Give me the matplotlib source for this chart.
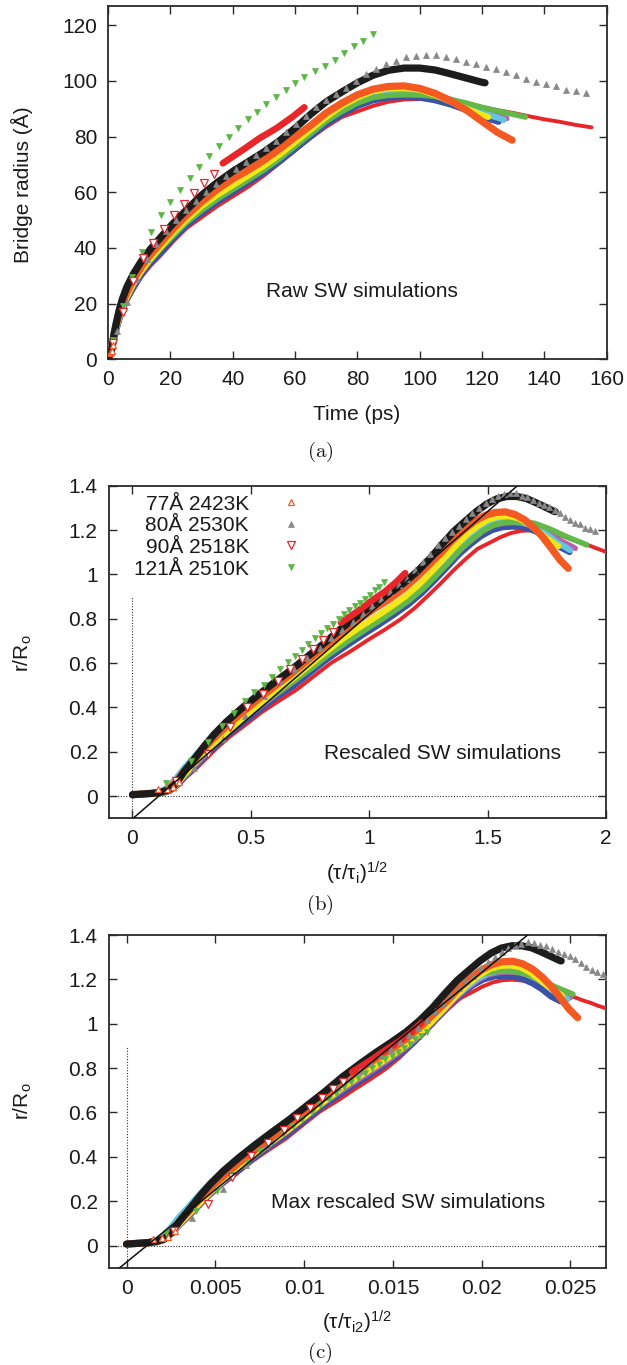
import numpy as np
import matplotlib
matplotlib.use('Agg')
import matplotlib.pyplot as plt
from matplotlib.ticker import FixedLocator, FixedFormatter

plt.rcParams['font.family'] = ['Liberation Sans', 'DejaVu Sans']
plt.rcParams['mathtext.fontset'] = 'custom'
plt.rcParams['mathtext.rm'] = 'Liberation Sans'
plt.rcParams['mathtext.it'] = 'Liberation Sans:italic'
plt.rcParams['mathtext.bf'] = 'Liberation Sans:bold'

# ---------------- data (raw bridge radius vs time) ----------------
t_base = [0, 0.3, 0.6, 0.9, 1.3, 1.8, 2.5, 3.5, 4.5, 6, 8, 10.5, 13.5, 17, 21, 25, 30, 35,
          40, 45, 50, 55, 60, 65, 70, 75, 80, 85, 90, 95, 100, 105, 110, 115, 120]

dense_names = ['red', 'blue', 'purple', 'cyan', 'green', 'yellow', 'orange', 'black']
dense_colors = ['#e8262a', '#3b53a5', '#b462b4', '#62c6de', '#62b848', '#f3e619', '#f25a22', '#1c1c1c']
dense_lw = [2.8, 4.4, 4.0, 4.4, 4.0, 4.4, 5.2, 5.2]

r_red = [0.5, 0.7, 1.0, 1.6, 3.5, 6.5, 9.5, 13.5, 17.0, 21.0, 25.0, 29.5, 33.5, 37.5, 42.5, 47.0, 51.0, 55.0,
         58.5, 62.0, 66.0, 70.5, 75.0, 79.5, 83.5, 87.0, 89.0, 91.0, 92.5, 93.3, 93.5, 93.2, 92.5, 91.8, 90.6]
r_blue = [0.5, 0.8, 1.1, 1.8, 3.8, 6.8, 10.0, 14.0, 17.5, 21.5, 25.5, 30.0, 34.5, 38.5, 43.5, 48.0, 52.5, 56.5,
          60.0, 63.5, 67.0, 71.0, 75.5, 80.0, 84.5, 88.0, 91.0, 93.0, 94.0, 94.2, 94.0, 93.0, 91.5, 89.5, 87.0]
r_purple = [0.5, 0.8, 1.2, 2.0, 4.0, 7.0, 10.5, 14.5, 18.0, 22.0, 26.5, 31.0, 35.5, 40.0, 45.0, 49.5, 54.0, 58.0,
            61.5, 65.0, 68.5, 72.5, 77.0, 81.5, 86.0, 89.5, 92.5, 94.5, 95.3, 95.5, 95.2, 94.4, 93.0, 91.2, 89.0]
r_cyan = [0.6, 1.2, 2.0, 3.5, 6.5, 10.0, 13.5, 18.0, 21.5, 25.5, 30.0, 34.5, 38.5, 42.5, 46.5, 51.0, 55.5, 59.5,
          63.0, 66.5, 70.0, 74.0, 78.0, 82.5, 86.5, 90.0, 93.0, 95.0, 96.0, 96.2, 95.8, 94.8, 93.3, 91.0, 88.5]
r_green = [0.5, 0.9, 1.4, 2.2, 4.5, 7.5, 11.0, 15.0, 18.5, 22.5, 27.0, 31.5, 35.5, 40.0, 44.5, 49.0, 53.5, 57.5,
           61.0, 64.5, 68.0, 72.0, 76.5, 81.0, 85.5, 89.0, 92.0, 94.0, 94.8, 95.0, 94.9, 94.5, 93.3, 92.0, 90.5]
r_yellow = [0.5, 0.8, 1.2, 2.0, 4.0, 7.5, 11.0, 15.0, 18.5, 22.5, 27.0, 31.5, 36.0, 40.5, 45.5, 50.0, 55.0, 59.0,
            62.5, 66.0, 69.5, 73.5, 78.0, 82.5, 87.0, 91.0, 94.0, 96.3, 97.3, 97.5, 96.8, 95.0, 92.5, 90.0, 87.8]
r_orange = [0.5, 1.0, 1.5, 2.5, 5.0, 8.5, 12.0, 16.5, 20.0, 24.0, 28.5, 33.0, 37.5, 42.0, 47.0, 51.5, 56.5, 61.0,
            64.8, 68.0, 71.5, 75.5, 79.8, 84.0, 88.5, 92.0, 95.0, 97.0, 98.0, 98.2, 97.3, 95.5, 92.8, 89.5, 85.5]
r_black = [0.5, 1.0, 1.5, 2.2, 4.5, 8.5, 12.5, 17.5, 21.5, 26.0, 30.5, 35.0, 39.5, 44.0, 49.0, 53.5, 59.0, 63.5,
           67.5, 71.0, 74.5, 78.5, 83.0, 88.0, 92.5, 96.0, 99.3, 102.0, 103.8, 104.6, 104.6, 103.9, 102.5, 101.0, 99.5]

tail_t = [[125, 130, 135, 140, 145, 150, 155.2], [125.4], [125, 128], [125, 127],
          [125, 130, 134], [122], [125, 129.7], [121]]
tail_r = [[89.5, 88.5, 87.3, 86.2, 85.3, 84.2, 83.3], [85.3], [87.5, 86.5], [86.8, 86.0],
          [89.2, 88.0, 87.0], [87.0], [81.5, 78.7], [99.3]]
dense_r = [r_red, r_blue, r_purple, r_cyan, r_green, r_yellow, r_orange, r_black]

# per-run rescaling constants: R0 (Å), tau_i (ps), tau_i2 (ps)
dense_R0 = [78.0, 77.5, 77.4, 77.5, 76.8, 77.2, 76.6, 77.4]
dense_tau_b = [35.3, 36.8, 36.6, 37.2, 36.4, 37.7, 38.3, 37.96]
dense_tau_c = [212000, 210000, 205000, 206000, 212000, 203000, 201000, 202000]

# sparse marker runs
legend_labels = ['77Å 2423K', '80Å 2530K', '90Å 2518K', '121Å 2510K']

t_77 = [0.45, 0.8, 1.1, 1.5]
r_77 = [2.4, 2.6, 3.0, 5.0]

t_80 = [2.7, 5.9, 9.1, 12.3, 15.5, 18.7, 21.9, 25.1, 28.3, 31.5, 34.7, 37.9, 41.1, 44.3, 47.5, 50.7,
        53.9, 57.1, 60.3, 63.5, 66.7, 69.9, 73.1, 76.3, 79.5, 82.7, 85.9, 89.3, 92.5, 95.7, 98.9, 102.1,
        105.3, 108.5, 111.7, 114.9, 118.1, 121.3, 124.5, 127.7, 130.9, 134.1, 137.3, 140.5, 143.7, 146.9,
        150.1, 153.3]
r_80 = [10.0, 20.5, 29.0, 36.0, 41.5, 46.0, 50.0, 53.5, 57.0, 60.0, 63.0, 65.8, 68.5, 71.0, 73.5, 76.0,
        78.5, 81.5, 84.5, 87.5, 90.5, 93.0, 95.3, 97.3, 100.0, 102.3, 104.1, 105.9, 107.2, 108.4, 108.9, 109.4,
        109.2, 108.4, 107.9, 106.9, 105.9, 105.1, 104.3, 103.2, 102.0, 100.6, 99.5, 98.7, 98.1, 96.9,
        96.3, 95.5]

t_90 = [1.6, 4.8, 8.0, 11.2, 14.4, 18.0, 21.0, 24.4, 27.6, 30.8, 34.0]
r_90 = [6.0, 17.0, 28.0, 36.3, 41.6, 46.7, 51.8, 55.8, 59.8, 63.4, 66.5]
t_90_seg = [36.8, 43.2, 48.6, 53.9, 59.2, 63.0]
r_90_seg = [70.4, 75.2, 79.4, 82.9, 87.1, 90.5]

t_121 = [1.5, 4.6, 7.7, 10.7, 13.9, 16.9, 20.0, 23.2, 26.2, 29.2, 32.4, 35.5, 38.7, 41.6, 44.8, 47.8,
         50.7, 53.9, 57.1, 60.1, 63.0, 66.4, 69.6, 72.8, 75.8, 78.8, 81.9, 85.1]
r_121 = [7.0, 19.0, 29.7, 38.4, 45.6, 51.8, 56.6, 60.8, 65.0, 69.2, 73.1, 76.7, 79.9, 83.2, 86.3, 89.0,
         91.6, 94.2, 96.7, 99.2, 101.5, 103.5, 105.4, 107.5, 109.9, 112.5, 114.3, 116.7]

sparse_R0 = {'77': 77.0, '80': 80.0, '90': 90.0, '121': 121.0}
sparse_tau_b = {'77': 38.3, '80': 40.15, '90': 47.5, '121': 75.3}
sparse_tau_c = {'77': 201000, '80': 200000, '90': 228000, '121': 298000}

# fitted straight lines (slope, intercept)
fit_b = (0.924, -0.1025)
fit_c = (65.3, -0.075)

# ticks
a_xticks = [0, 20, 40, 60, 80, 100, 120, 140, 160]
a_yticks = [0, 20, 40, 60, 80, 100, 120]
b_xticks = [0, 0.5, 1, 1.5, 2]
b_xlabels = ['0', '0.5', '1', '1.5', '2']
r_yticks = [0, 0.2, 0.4, 0.6, 0.8, 1.0, 1.2, 1.4]
r_ylabels = ['0', '0.2', '0.4', '0.6', '0.8', '1', '1.2', '1.4']
c_xticks = [0, 0.005, 0.01, 0.015, 0.02, 0.025]
c_xlabels = ['0', '0.005', '0.01', '0.015', '0.02', '0.025']

# ---------------- figure ----------------
W, H = 627, 1365
fig = plt.figure(figsize=(W / 100, H / 100), dpi=100)


def axes_px(left, top, right, bottom):
    return fig.add_axes([left / W, 1 - bottom / H, (right - left) / W, (bottom - top) / H])


ax_a = axes_px(108.2, 5.7, 606.5, 359.3)
ax_b = axes_px(108.8, 485.7, 606.0, 818.3)
ax_c = axes_px(108.8, 935.0, 606.0, 1267.7)

FS = 15
SPINE = '#2a2a2a'
for ax in (ax_a, ax_b, ax_c):
    ax.tick_params(direction='in', top=True, right=True, length=6, width=1.0,
                   labelsize=FS, pad=8, colors=SPINE, labelcolor='#1a1a1a')
    for s in ax.spines.values():
        s.set_linewidth(1.3)
        s.set_color(SPINE)

ax_a.set_xlim(0, 160)
ax_a.set_ylim(0, 127)
ax_a.set_xticks(a_xticks)
ax_a.set_yticks(a_yticks)

for ax in (ax_b, ax_c):
    ax.set_ylim(-0.1, 1.4)
    ax.yaxis.set_major_locator(FixedLocator(r_yticks))
    ax.yaxis.set_major_formatter(FixedFormatter(r_ylabels))
ax_b.set_xlim(-0.1, 2.0)
ax_b.xaxis.set_major_locator(FixedLocator(b_xticks))
ax_b.xaxis.set_major_formatter(FixedFormatter(b_xlabels))
ax_c.set_xlim(-0.001, 0.027)
ax_c.xaxis.set_major_locator(FixedLocator(c_xticks))
ax_c.xaxis.set_major_formatter(FixedFormatter(c_xlabels))

# dotted zero lines in rescaled panels
for ax in (ax_b, ax_c):
    ax.axhline(0, color='#333333', ls=(0, (1, 1.5)), lw=0.8, zorder=1)
    ax.vlines(0, -0.1, 0.9, color='#333333', linestyles=[(0, (1, 1.5))], lw=0.8, zorder=1)

# dense runs
for i in range(len(dense_names)):
    t = np.array(t_base + tail_t[i])
    r = np.array(dense_r[i] + tail_r[i])
    kw = dict(color=dense_colors[i], lw=dense_lw[i], solid_capstyle='round',
              solid_joinstyle='round', zorder=3 + i * 0.1)
    ax_a.plot(t, r, **kw)
    ax_b.plot(np.sqrt(t / dense_tau_b[i]), r / dense_R0[i], **kw)
    ax_c.plot(np.sqrt(t / dense_tau_c[i]), r / dense_R0[i], **kw)

# sparse runs
sparse = [
    ('80', t_80, r_80, dict(marker='^', ls='none', ms=4.2, mfc='#888888', mec='#888888', mew=0.5)),
    ('121', t_121, r_121, dict(marker='v', ls='none', ms=4.6, mfc='#5cb645', mec='#5cb645', mew=0.5)),
    ('90', t_90, r_90, dict(marker='v', ls='none', ms=5.2, mfc='white', mec='#e8262a', mew=0.9)),
    ('77', t_77, r_77, dict(marker='^', ls='none', ms=5.0, mfc='white', mec='#f05a28', mew=0.9)),
]
for key, tt, rr, kw in sparse:
    t = np.array(tt)
    r = np.array(rr)
    ax_a.plot(t, r, zorder=5, **kw)
    ax_b.plot(np.sqrt(t / sparse_tau_b[key]), r / sparse_R0[key], zorder=5, **kw)
    ax_c.plot(np.sqrt(t / sparse_tau_c[key]), r / sparse_R0[key], zorder=5, **kw)

# 90Å continuous segment
t = np.array(t_90_seg)
r = np.array(r_90_seg)
segkw = dict(color='#e8262a', lw=4.8, solid_capstyle='round', zorder=4)
ax_a.plot(t, r, **segkw)
ax_b.plot(np.sqrt(t / sparse_tau_b['90']), r / sparse_R0['90'], **segkw)
ax_c.plot(np.sqrt(t / sparse_tau_c['90']), r / sparse_R0['90'], **segkw)

# fit lines
xb = np.array(ax_b.get_xlim())
ax_b.plot(xb, fit_b[0] * xb + fit_b[1], color='#111111', lw=1.1, zorder=6)
xc = np.array(ax_c.get_xlim())
ax_c.plot(xc, fit_c[0] * xc + fit_c[1], color='#111111', lw=1.1, zorder=6)
for ax in (ax_b, ax_c):
    ax.set_xlim(ax.get_xlim())
    ax.set_ylim(-0.1, 1.4)

# annotations
ax_a.text(0.509, 0.177, 'Raw SW simulations', transform=ax_a.transAxes, fontsize=FS,
          ha='center', va='baseline', color='#1a1a1a')
ax_b.text(0.672, 0.177, 'Rescaled SW simulations', transform=ax_b.transAxes, fontsize=FS,
          ha='center', va='baseline', color='#1a1a1a')
ax_c.text(0.602, 0.1785, 'Max rescaled SW simulations', transform=ax_c.transAxes, fontsize=FS,
          ha='center', va='baseline', color='#1a1a1a')

# legend (panel b)
leg_kw = [sparse[3][3], sparse[0][3], sparse[2][3], sparse[1][3]]
for k, lab in enumerate(legend_labels):
    yb = 0.927 - k * 0.0647
    ax_b.text(0.282, yb, lab, transform=ax_b.transAxes, fontsize=FS, ha='right',
              va='baseline', color='#1a1a1a')
    ax_b.plot([0.367], [yb + 0.024], transform=ax_b.transAxes, zorder=7, **leg_kw[k])


def ftext(x, y, s, **kw):
    fig.text(x / W, 1 - y / H, s, **kw)


ftext(22, 185, 'Bridge radius (Å)', rotation=90, fontsize=FS, ha='center', va='center', color='#1a1a1a')
ftext(23, 653, r'r/R$_\mathrm{o}$', rotation=90, fontsize=FS, ha='center', va='center', color='#1a1a1a')
ftext(23, 1101, r'r/R$_\mathrm{o}$', rotation=90, fontsize=FS, ha='center', va='center', color='#1a1a1a')

ftext(357, 414, 'Time (ps)', fontsize=FS, ha='center', va='center', color='#1a1a1a')
ftext(357, 873, r'(τ/τ$_\mathrm{i}$)$^\mathrm{1/2}$', fontsize=FS, ha='center', va='center', color='#1a1a1a')
ftext(357, 1322, r'(τ/τ$_\mathrm{i2}$)$^\mathrm{1/2}$', fontsize=FS, ha='center', va='center', color='#1a1a1a')

for lab, yy in (('(a)', 451.5), ('(b)', 905), ('(c)', 1353)):
    ftext(320, yy, r'$\mathrm{' + lab + '}$', math_fontfamily='cm', fontsize=15,
          ha='center', va='center', color='#1a1a1a')

fig.savefig('out.png', dpi=100)
